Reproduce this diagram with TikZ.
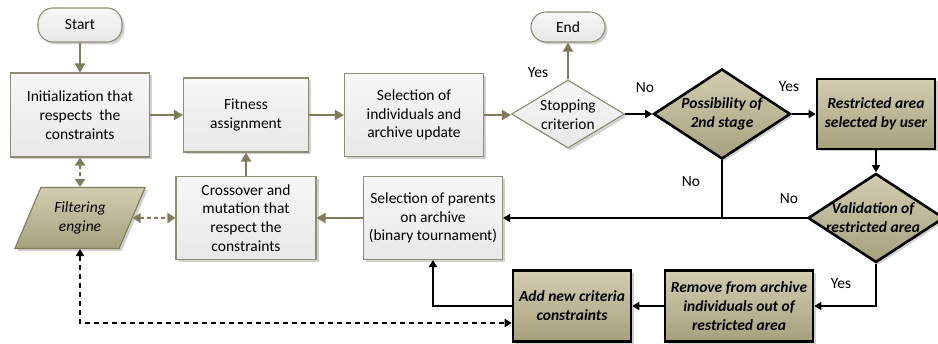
\documentclass[tikz,border=0pt]{standalone}
\usepackage{fontspec}
\setmainfont{Carlito}
\usetikzlibrary{arrows.meta,shapes.geometric,shadows,calc}
\definecolor{oliveline}{HTML}{7F7B5B}
\definecolor{lightborder}{HTML}{8E8C74}
\definecolor{darktop}{HTML}{D2CDB0}
\definecolor{darkbot}{HTML}{A5A07C}
\definecolor{lighttop}{HTML}{F7F7F7}
\definecolor{lightbot}{HTML}{E8E8E8}
\newcommand{\myfs}{\fontsize{15.5}{18.8}\selectfont}
\tikzset{
  shad/.style={drop shadow={shadow xshift=2.5pt,shadow yshift=-2.5pt,opacity=0.3,fill=black!60}},
  lightbox/.style={draw=lightborder,line width=1.1pt,top color=lighttop,bottom color=lightbot,shad,
    align=center,inner sep=2pt},
  term/.style={lightbox,rounded corners=15pt},
  darkbox/.style={draw=black,line width=2.6pt,top color=darktop,bottom color=darkbot,shad,
    align=center,inner sep=2pt,font=\myfs\bfseries\itshape},
  lightdia/.style={diamond,draw=lightborder,line width=1.1pt,top color=lighttop,bottom color=lightbot,shad,inner sep=0pt},
  darkdia/.style={diamond,draw=black,line width=2.6pt,top color=darktop,bottom color=darkbot,shad,inner sep=0pt},
  para/.style={trapezium,trapezium left angle=62,trapezium right angle=118,trapezium stretches=true,
    draw=oliveline,line width=1.1pt,top color=darktop,bottom color=darkbot,shad,align=center,
    font=\myfs\itshape,inner sep=0pt},
  oarrow/.style={draw=oliveline,line width=2pt,-{Triangle[length=9pt,width=10pt]},color=oliveline},
  barrow/.style={draw=black,line width=2.6pt,-{Triangle[length=7pt,width=8pt]}},
  bline/.style={draw=black,line width=2.6pt},
  odash/.style={draw=oliveline,color=oliveline,line width=2pt,dash pattern=on 4pt off 3pt,
    {Triangle[length=8pt,width=10pt]}-{Triangle[length=8pt,width=10pt]}},
  bdash/.style={draw=black,line width=2.6pt,dash pattern=on 5pt off 4pt,
    {Triangle[length=7pt,width=8pt]}-{Triangle[length=7pt,width=8pt]}},
  lbl/.style={inner sep=0pt},
  dtext/.style={align=center,inner sep=0pt},
}
\begin{document}
\begin{tikzpicture}[x=1pt,y=-1pt,font=\myfs]
\useasboundingbox (0,0) rectangle (938,344);
\clip (0,0) rectangle (938,344);
% light nodes
\node[term,minimum width=84pt,minimum height=34pt] (start) at (80,25) {Start};
\node[lightbox,minimum width=139pt,minimum height=84pt] (init) at (80,115) {Initialization that\\respects\ \ the\\constraints};
\node[lightbox,minimum width=125pt,minimum height=74pt] (fit) at (246,115) {Fitness\\assignment};
\node[lightbox,minimum width=139pt,minimum height=83pt] (selind) at (414,115) {Selection of\\individuals and\\archive update};
\node[lightdia,minimum width=113pt,minimum height=68pt] (stop) at (568,114) {};
\node[dtext] (stoptxt) at (568,115) {Stopping\\criterion};
\node[term,minimum width=74pt,minimum height=30pt] (end) at (568,27) {End};
\node[lightbox,minimum width=140pt,minimum height=83pt] (cross) at (246,218) {Crossover and\\mutation that\\respect the\\constraints};
\node[lightbox,minimum width=139pt,minimum height=83pt] (parents) at (433,218) {Selection of parents\\on archive\\(binary tournament)};
\node[para,minimum width=131pt,minimum height=61pt] (filter) at (80,218) {Filtering\\engine};
% dark nodes
\node[darkdia,minimum width=137pt,minimum height=90pt] (poss) at (722,114) {};
\node[dtext,font=\myfs\bfseries\itshape] (posstxt) at (poss) {Possibility of\\2nd stage};
\node[darkbox,minimum width=118pt,minimum height=70pt] (restr) at (876,114) {Restricted area\\selected by user};
\node[darkdia,minimum width=136pt,minimum height=89pt] (valid) at (876,218) {};
\node[dtext,font=\myfs\bfseries\itshape] (validtxt) at (873,218) {Validation of\\restricted area};
\node[darkbox,minimum width=148pt,minimum height=71pt] (remove) at (739,306) {Remove from archive\\individuals out of\\restricted area};
\node[darkbox,minimum width=118pt,minimum height=71pt] (add) at (572,306) {Add new criteria\\constraints};
% olive connectors
\draw[oarrow] (start) -- (init);
\draw[oarrow] (init) -- (fit);
\draw[oarrow] (fit) -- (selind);
\draw[oarrow] (selind.east) -- (selind.east -| stop.west);
\draw[oarrow] (stop) -- (end);
\draw[oarrow] (parents) -- (cross);
\draw[oarrow] (cross) -- (fit);
\draw[odash] (init.south) -- (filter.north);
\draw[odash] (filter.east) -- (cross.west);
% black connectors
\draw[barrow] (stop.east) -- (poss.west);
\draw[barrow] (poss.east) -- (restr.west);
\draw[barrow] (restr.south) -- (valid.north);
\draw[barrow] (valid.west) -- (parents.east);
\coordinate (join) at (poss.south |- valid.west);
\draw[bline] (poss.south) -- (join);
\draw[barrow] (valid.south) |- (remove.east);
\draw[barrow] (remove.west) -- (add.east);
\draw[barrow] (add.west) -| (parents.south);
\draw[bdash] (filter.south) |- ([yshift=-17pt]add.west);
% labels
\node[lbl] (l1) at (538,73) {Yes};
\node[lbl] (l2) at (645,88) {No};
\node[lbl] (l3) at (789,87) {Yes};
\node[lbl] (l4) at (691,182) {No};
\node[lbl] (l5) at (789,199) {No};
\node[lbl] (l6) at (841,284) {Yes};
\end{tikzpicture}
\end{document}
